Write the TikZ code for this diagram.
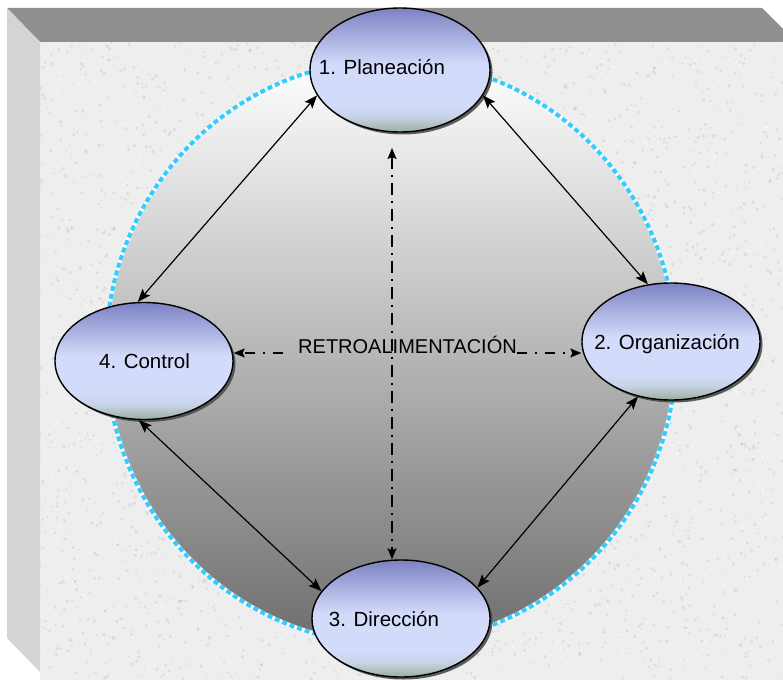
\documentclass[tikz,border=0pt]{standalone}
\usepackage{fontspec}
\setmainfont{Liberation Sans}
\usetikzlibrary{arrows.meta,shadows,shapes.geometric,calc}

\definecolor{bevelTop}{HTML}{8F8F8F}
\definecolor{bevelLeft}{HTML}{D4D4D4}
\definecolor{granite}{HTML}{EEEEEE}
\definecolor{rimBlue}{HTML}{33CCFF}
\definecolor{discMid}{HTML}{C6C6C6}
\definecolor{discLow}{HTML}{6E6E6E}
\definecolor{phLow}{HTML}{9CAE9C}
\definecolor{phPaleB}{HTML}{C6D2E4}
\definecolor{phPale}{HTML}{D3DBFB}
\definecolor{phTop}{HTML}{7C82C2}

% vertical fill of the four phase ellipses: slate blue on top, pale blue body, grey-green rim
\pgfdeclareverticalshading{phaseshade}{100bp}{%
  color(0bp)=(phLow); color(25bp)=(phLow); color(31bp)=(phPaleB);
  color(36bp)=(phPale); color(52bp)=(phPale); color(75bp)=(phTop); color(100bp)=(phTop)}

\begin{document}
\begin{tikzpicture}[x=1pt,y=-1pt,
  phase/.style={ellipse, draw=black, line width=1.4pt, shading=phaseshade,
    minimum width=178pt, minimum height=117pt, inner sep=0pt,
    drop shadow={shadow xshift=2.5pt, shadow yshift=-2.5pt, fill=black!70, opacity=0.9}},
  lbl/.style={font=\fontsize{20.5}{24}\selectfont, inner sep=0pt, anchor=base, text=black},
  link/.style={line width=1.2pt,
    {Stealth[length=13pt,width=10pt,inset=2.5pt]}-{Stealth[length=13pt,width=10pt,inset=2.5pt]}},
  fbv/.style={line width=1.4pt, dash pattern=on 12pt off 6pt on 2pt off 6pt,
    {Stealth[length=11pt,width=9pt,inset=2pt]}-{Stealth[length=11pt,width=9pt,inset=2pt]}},
  fbh/.style={line width=1.1pt, dash pattern=on 10pt off 8pt on 2pt off 8pt,
    -{Stealth[length=11pt,width=9pt,inset=2pt]}}
]
\useasboundingbox (0,0) rectangle (783,679);
\fill[white] (0,0) rectangle (783,679);

% bevelled frame with a speckled granite face
\fill[granite] (40,42) rectangle (800,690);
\begin{scope}
  \clip (40,42) rectangle (783,679);
  \pgfmathsetseed{7}
  \foreach \k in {1,...,3200}
    \fill[black, opacity=0.07] ({40+743*rnd},{42+637*rnd}) circle ({0.8+1.2*rnd});
  \foreach \k in {1,...,1200}
    \fill[white, opacity=0.5] ({40+743*rnd},{42+637*rnd}) circle (1.2pt);
\end{scope}
\fill[bevelTop] (7,8) -- (762,8) -- (796,42) -- (40,42) -- cycle;
\fill[bevelLeft] (7,8) -- (40,42) -- (40,672) -- (7,638) -- cycle;

% central disc with dashed rim
\shade[top color=white, middle color=discMid, bottom color=discLow]
  (391,352) ellipse [x radius=285, y radius=292];
\draw[white, line width=4pt] (391,352) ellipse [x radius=285, y radius=292];
\draw[rimBlue, line width=4pt, dash pattern=on 5pt off 3pt]
  (391,352) ellipse [x radius=285, y radius=292];

% the four phases
\node[phase, minimum width=180pt, minimum height=124pt] (plan) at (400,70) {};
\node[lbl] (planT) at (382,75) {1. Planeación};
\node[phase] (org) at (671,341.5) {};
\node[lbl] (orgT) at (667,349) {2. Organización};
\node[phase] (ctrl) at (144,361) {};
\node[lbl] (ctrlT) at (144.5,368) {4. Control};
\node[phase] (dir) at (401,618.5) {};
\node[lbl] (dirT) at (384,626) {3. Dirección};

% cycle links
\draw[link] (plan.197) -- (ctrl.96);
\draw[link] (plan.343) -- (org.112);
\draw[link] (org.239) -- (dir.22);
\draw[link] (ctrl.265) -- (dir.161);

% feedback
\node[lbl, font=\fontsize{20}{24}\selectfont] (retro) at (407.5,353) {RETROALIMENTACIÓN};
\coordinate (fbtop) at (392,148);
\draw[fbv] (fbtop) -- (fbtop |- dir.north);
\draw[fbh] ([xshift=-15pt]retro.base west) -- (ctrl.east |- retro.base);
\draw[fbh] (retro.base east) -- (org.west |- retro.base);
\end{tikzpicture}
\end{document}
